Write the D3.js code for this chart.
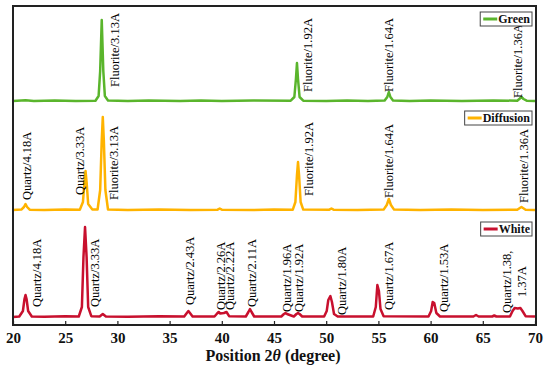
<!DOCTYPE html>
<html>
<head>
<meta charset="utf-8">
<script src="https://cdn.jsdelivr.net/npm/d3@7"></script>
<style>
  body { margin: 0; background: #fff; }
  text { font-family: "Times New Roman", "Liberation Serif", serif; }
</style>
</head>
<body>
<div class="chart"></div>
<script>
// XRD patterns, [2theta, intensity above the series baseline]
const greenPts = [[20,0],[21.2,0.8],[22,0],[24,0.5],[26,0],[27.9,0.3],[28.2,5],[28.35,30],[28.5,81],[28.65,30],[28.8,5],[29.1,0.5],
  [31,0],[33,0.5],[36,0],[38,0.4],[40,0],[43,0.5],[46.6,0.3],[46.95,4],[47.1,22],[47.2,38],[47.3,22],[47.45,4],[47.8,0.3],
  [50,0],[52,0.6],[54,0],[55.6,0.4],[55.85,4],[56.0,9],[56.15,4],[56.4,0.4],[58,0],[60,0.5],[63,0],[66,0.5],
  [68.3,0.3],[68.55,2.5],[68.7,4],[68.9,2],[69.2,0.3],[70,0]];
const diffusionPts = [[20,0],[20.8,0.4],[21.05,3],[21.2,6],[21.35,3],[21.6,0.3],[23,0],[25,0.5],[26.4,0.3],[26.7,8],[26.85,28],[26.95,39],
  [27.05,28],[27.2,6],[27.6,0.5],[28.1,0.5],[28.35,20],[28.5,70],[28.6,93],[28.7,70],[28.85,20],[29.1,0.5],[31,0],[34,0.5],[37,0],
  [39.6,0.3],[39.8,1.5],[40,0.3],[43,0],[45,0.5],[46.8,0.3],[47.05,8],[47.2,35],[47.3,48],[47.4,35],[47.55,8],[47.8,0.4],
  [50.3,0.3],[50.5,1.5],[50.7,0.3],[53,0],[55.5,0.4],[55.8,5],[56,11],[56.2,5],[56.5,0.4],[59,0],[62,0.5],[65,0],
  [68.3,0.3],[68.55,2],[68.7,3],[68.85,2],[69.1,0.3],[70,0]];
const whitePts = [[20,0],[20.6,0.5],[20.95,6],[21.1,18],[21.2,22],[21.3,18],[21.45,6],[21.8,0.5],[23,0.3],[25,0.8],[26.3,0.5],
  [26.6,10],[26.75,60],[26.9,90],[27.05,60],[27.2,10],[27.5,0.8],[28.3,0.5],[28.6,3],[28.9,0.5],[31,0.3],[34,0.8],
  [36.4,0.5],[36.65,4],[36.8,6],[36.95,4],[37.2,0.5],[39.3,0.5],[39.55,3.5],[39.7,5],[39.85,3.5],[40.2,4],[40.45,5],[40.7,0.8],
  [42.3,0.5],[42.55,5],[42.7,8],[42.85,5],[43.1,0.5],[45.7,0.5],[45.95,3],[46.1,4],[46.25,3],[46.9,0.5],[47.15,3],[47.3,4],
  [47.45,3],[47.7,0.5],[49.8,0.5],[50.05,6],[50.2,17],[50.4,21],[50.55,15],[50.75,3],[51.1,0.5],[54.5,0.5],[54.75,10],
  [54.9,32],[55.05,26],[55.2,8],[55.5,0.8],[59.8,0.5],[60.05,6],[60.2,15],[60.35,14],[60.55,4],[60.9,0.5],[64.1,0.5],
  [64.35,2],[64.6,0.5],[65.9,0.5],[66.1,1.5],[66.3,0.5],[67.6,0.5],[67.85,6],[68.05,9],[68.35,8.5],[68.6,9],[68.8,6],
  [69.1,0.8],[70,0.5]];

const seriesNames = ["Green", "Diffusion", "White"];
const seriesOffsets = [224, 115, 8];
const seriesColors = ["#5ab52c", "#ffb300", "#c8102e"];

// peak labels: [text, 2theta of label, height of label foot]
const greenLabels = [["Fluorite/3.13A",29.77,238],["Fluorite/1.92A",48.26,233],["Fluorite/1.64A",56.02,233],["Fluorite/1.36A",68.37,227]];
const diffusionLabels = [["Quartz/4.18A",21.34,125],["Quartz/3.33A",26.42,130],["Fluorite/3.13A",29.67,125],
  ["Fluorite/1.92A",48.35,129],["Fluorite/1.64A",56.02,127],["Fluorite/1.36A",68.95,122]];
const whiteLabels = [["Quartz/4.18A",22.3,18],["Quartz/3.33A",27.85,18],["Quartz/2.43A",36.95,20],["Quartz/2.26A",39.92,15],
  ["Quartz/2.22A",40.79,15],["Quartz/2.11A",42.89,18],["Quartz/1.96A",46.25,13],["Quartz/1.92A",47.39,13],
  ["Quartz/1.80A",51.51,10],["Quartz/1.67A",56.02,15],["Quartz/1.53A",61.28,13],["Quartz/1.38,",67.32,12],["1.37A",68.75,28]];

const xTicks = [20, 25, 30, 35, 40, 45, 50, 55, 60, 65, 70];
const legendTops = [12, 111, 222];

const width = 550, height = 369;

const svg = d3.select(".chart")
  .append("svg")
  .attr("width", width)
  .attr("height", height);

const x = d3.scaleLinear().domain([20, 70]).range([13, 535]);
const y = d3.scaleLinear().domain([0, 319]).range([325, 6]);

const allPts = [greenPts, diffusionPts, whitePts];
const allLabels = [greenLabels, diffusionLabels, whiteLabels];

// pattern lines
allPts.forEach(function(pts, i) {
  const line = d3.line()
    .x(d => x(d[0]))
    .y(d => y(d[1] + seriesOffsets[i]));
  svg.append("path")
    .datum(pts)
    .attr("fill", "none")
    .attr("stroke", seriesColors[i])
    .attr("stroke-width", 2.5)
    .attr("stroke-linejoin", "round")
    .attr("d", line);
});

// peak labels, rotated
allLabels.forEach(function(labels) {
  svg.selectAll(null)
    .data(labels)
    .enter()
    .append("text")
    .attr("transform", d => `translate(${x(d[1])}, ${y(d[2])}) rotate(-90)`)
    .attr("dy", "0.35em")
    .attr("font-size", 12.5)
    .attr("fill", "#000")
    .text(d => d[0]);
});

// frame
svg.append("rect")
  .attr("x", 13)
  .attr("y", 6)
  .attr("width", 523)
  .attr("height", 319)
  .attr("fill", "none")
  .attr("stroke", "#222")
  .attr("stroke-width", 2);

// bottom axis, ticks pointing in
const xAxis = svg.append("g")
  .attr("transform", `translate(0, ${y(0)})`)
  .call(d3.axisBottom(x).tickValues(xTicks).tickSizeInner(-4).tickSizeOuter(0).tickPadding(7));
xAxis.select(".domain").remove();
xAxis.selectAll(".tick line").attr("stroke", "#222").attr("stroke-width", 1.2);
xAxis.selectAll(".tick text")
  .attr("font-family", "'Times New Roman', 'Liberation Serif', serif")
  .attr("font-size", 15)
  .attr("font-weight", "bold")
  .attr("fill", "#111");

// axis title
const title = svg.append("text")
  .attr("x", 273)
  .attr("y", 361)
  .attr("text-anchor", "middle")
  .attr("font-size", 16)
  .attr("font-weight", "bold")
  .attr("fill", "#111");
title.append("tspan").text("Position 2");
title.append("tspan").attr("font-style", "italic").text("θ");
title.append("tspan").text(" (degree)");

// legends
seriesNames.forEach(function(name, i) {
  const g = svg.append("g");
  const label = g.append("text")
    .attr("y", legendTops[i] + 11)
    .attr("font-size", 12)
    .attr("font-weight", "bold")
    .attr("fill", "#111")
    .text(name);
  const tw = label.node().getComputedTextLength();
  const right = 532;
  const left = right - tw - 20;
  label.attr("x", right - tw - 2);
  g.insert("rect", "text")
    .attr("x", left)
    .attr("y", legendTops[i])
    .attr("width", right - left)
    .attr("height", 14)
    .attr("fill", "#fff")
    .attr("stroke", "#444")
    .attr("stroke-width", 1);
  g.append("line")
    .attr("x1", left + 3)
    .attr("x2", left + 17)
    .attr("y1", legendTops[i] + 7)
    .attr("y2", legendTops[i] + 7)
    .attr("stroke", seriesColors[i])
    .attr("stroke-width", 3);
});
</script>
</body>
</html>
